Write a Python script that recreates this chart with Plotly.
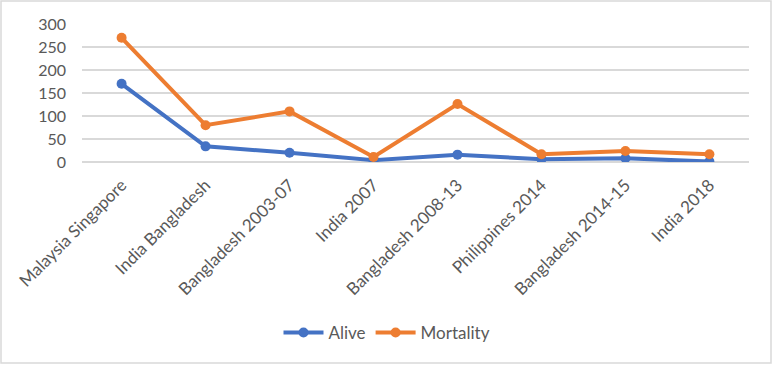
import plotly.graph_objects as go

categories = ["Malaysia Singapore", "India Bangladesh", "Bangladesh 2003-07", "India 2007",
              "Bangladesh 2008-13", "Philippines 2014", "Bangladesh 2014-15", "India 2018"]
alive = [170, 34, 20, 4, 16, 6, 8, 1]
mortality = [270, 80, 110, 11, 126, 17, 24, 17]
y_ticks = [0, 50, 100, 150, 200, 250, 300]

FONT = "Lato, Open Sans, sans-serif"

fig = go.Figure()
fig.add_trace(go.Scatter(x=categories, y=alive, name="Alive", mode="lines+markers",
                         line=dict(color="#4472C4", width=4),
                         marker=dict(size=10, color="#4472C4")))
fig.add_trace(go.Scatter(x=categories, y=mortality, name="Mortality", mode="lines+markers",
                         line=dict(color="#ED7D31", width=4),
                         marker=dict(size=10, color="#ED7D31")))

W, H = 773, 365
L, R, T, B = 82, 24, 24, 203
pw, ph = W - L - R, H - T - B

def px(x):
    return (x - L) / pw

def py(y):
    return (H - B - y) / ph

fig.update_layout(
    width=W, height=H,
    margin=dict(l=L, r=R, t=T, b=B),
    paper_bgcolor="white", plot_bgcolor="white",
    font=dict(family=FONT, color="#595959", size=15),
    showlegend=True,
    legend=dict(orientation="h", x=px(387), y=py(333), xanchor="center", yanchor="middle",
                font=dict(size=17, color="#595959"), itemwidth=40, tracegroupgap=0),
    xaxis=dict(tickangle=-45, showgrid=False, showline=False, ticks="",
               tickfont=dict(size=17, color="#595959"), ticklabelstandoff=9),
    yaxis=dict(range=[0, 300], tickvals=y_ticks, showgrid=True, gridcolor="#D9D9D9",
               gridwidth=1.5, zeroline=True, zerolinecolor="#D9D9D9", zerolinewidth=1.5,
               tickfont=dict(size=16, color="#595959"), ticks="", ticklen=0,
               showline=False, ticklabelstandoff=15),
    shapes=[dict(type="rect", xref="paper", yref="paper",
                 x0=px(1), x1=px(771), y0=py(363), y1=py(1),
                 line=dict(color="#D9D9D9", width=1.5), fillcolor="rgba(0,0,0,0)", layer="below")],
)
fig.update_yaxes(automargin=False)
fig.update_xaxes(automargin=False)

fig.write_html("out.html", config={"displayModeBar": False},
               post_script="document.body.style.margin='0';")
